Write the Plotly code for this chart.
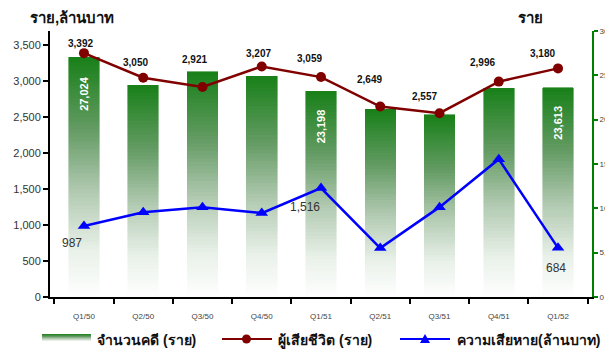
import plotly.graph_objects as go

# Quarterly data
quarters = ["Q1/50", "Q2/50", "Q3/50", "Q4/50", "Q1/51", "Q2/51", "Q3/51", "Q4/51", "Q1/52"]
cases = [27024, 23910, 25380, 24920, 23198, 21200, 20530, 23570, 23613]        # จำนวนคดี (ราย)
deaths = [3392, 3050, 2921, 3207, 3059, 2649, 2557, 2996, 3180]                # ผู้เสียชีวิต (ราย)
damage = [987, 1180, 1250, 1167, 1516, 681, 1250, 1917, 684]                   # ความเสียหาย (ล้านบาท)

# which bars / damage points carry a printed value
case_labelled = [0, 4, 8]
damage_labelled = [0, 4, 8]

# label centre offsets (pixels) for the death-count labels and the damage labels
death_dx = [-3, -8, -8, -3, -12, -11, -15, -16, -16]
death_dy = [10, 15, 28, 13, 19, 27, 17, 19, 15]
damage_dx = {0: -12, 4: -16, 8: -2}
damage_dy = {0: -17, 4: -19, 8: -20}

FONT = "Liberation Sans, Arial, sans-serif"
GREEN = "#008000"
RED = "#800000"
BLUE = "#0000ff"


def lerp(c1, c2, t):
    return tuple(round(a + (b - a) * t) for a, b in zip(c1, c2))


# bar gradient: top green fading to white at the base
grad_stops = [(0.0, (24, 128, 24)), (0.3, (100, 155, 100)), (0.55, (175, 200, 175)),
              (0.8, (232, 240, 232)), (1.0, (255, 255, 255))]


def grad_color(t):  # t = 0 at top, 1 at bottom
    for (t0, c0), (t1, c1) in zip(grad_stops[:-1], grad_stops[1:]):
        if t <= t1:
            c = lerp(c0, c1, (t - t0) / (t1 - t0))
            return "rgb(%d,%d,%d)" % c
    return "rgb(255,255,255)"


fig = go.Figure()

# bars built as stacked slices so each bar carries its own vertical gradient
N = 60
for k in range(N):
    t = 1 - (k + 0.5) / N
    col = grad_color(t)
    fig.add_trace(go.Bar(
        x=quarters, y=[v / N for v in cases], yaxis="y",
        marker=dict(color=col, line=dict(width=0.6, color=col)),
        showlegend=False, hoverinfo="skip"))

fig.add_trace(go.Scatter(
    x=quarters, y=deaths, yaxis="y2", mode="lines+markers",
    line=dict(color=RED, width=2.5),
    marker=dict(symbol="circle", size=10, color=RED),
    showlegend=False))

fig.add_trace(go.Scatter(
    x=quarters, y=damage, yaxis="y2", mode="lines+markers",
    line=dict(color=BLUE, width=2.5),
    marker=dict(symbol="triangle-up", size=11, color=BLUE),
    showlegend=False))

annotations = []
for i, q in enumerate(quarters):
    annotations.append(dict(
        x=q, y=deaths[i], xref="x", yref="y2", text="<b>{:,}</b>".format(deaths[i]),
        showarrow=False, xshift=death_dx[i], yshift=death_dy[i],
        yanchor="middle", font=dict(family=FONT, size=10, color="#111"),
    ))
for i in damage_labelled:
    annotations.append(dict(
        x=quarters[i], y=damage[i], xref="x", yref="y2", text="{:,}".format(damage[i]),
        showarrow=False, xshift=damage_dx[i], yshift=damage_dy[i],
        yanchor="middle", font=dict(family=FONT, size=12, color="#333"),
    ))
for i in case_labelled:
    annotations.append(dict(
        x=quarters[i], y=cases[i], xref="x", yref="y", text="<b>{:,}</b>".format(cases[i]),
        showarrow=False, textangle=-90, yanchor="top", yshift=-16,
        font=dict(family=FONT, size=11, color="white"),
    ))

W, H = 605, 349
L, R, T, B = 50, 13, 31, 52
pw, ph = W - L - R, H - T - B


def px(xp):
    return (xp - L) / pw


def py(yp):
    return (H - B - yp) / ph


fig.update_layout(
    width=W, height=H,
    margin=dict(l=L, r=R, t=T, b=B, autoexpand=False),
    plot_bgcolor="white", paper_bgcolor="white",
    barmode="stack", bargap=0.485,
    showlegend=False,
    xaxis=dict(
        type="category", showgrid=False, showline=True, linecolor="black", linewidth=2,
        ticks="outside", tickson="boundaries", ticklen=5, tickwidth=2, tickcolor="black",
        tickfont=dict(family=FONT, size=8, color="#444"), ticklabelstandoff=10,
        automargin=False,
    ),
    yaxis=dict(
        side="right", range=[0, 30000], dtick=5000, tickformat=",d",
        showgrid=False, zeroline=False, showline=True, linecolor=GREEN, linewidth=2,
        ticks="outside", ticklen=4, tickwidth=2, tickcolor=GREEN,
        tickfont=dict(family=FONT, size=8, color="#444"), automargin=False,
    ),
    yaxis2=dict(
        overlaying="y", side="left", range=[0, 3700], dtick=500, tickformat=",d",
        showgrid=False, zeroline=False, showline=True, linecolor="black", linewidth=2,
        ticks="outside", ticklen=5, tickwidth=2, tickcolor="black",
        tickfont=dict(family=FONT, size=11, color="#333"), automargin=False,
    ),
)

# axis titles
annotations.append(dict(x=px(28), y=py(18), xref="paper", yref="paper",
                        text="<b>ราย,ล้านบาท</b>", showarrow=False,
                        xanchor="left", yanchor="middle",
                        font=dict(family=FONT, size=15, color="#111")))
annotations.append(dict(x=px(530), y=py(18), xref="paper", yref="paper", text="<b>ราย</b>",
                        showarrow=False, xanchor="center", yanchor="middle",
                        font=dict(family=FONT, size=15, color="#111")))

# legend drawn below the plot
shapes = []
sw_top, sw_bot = 334, 341
steps = sw_bot - sw_top
for s in range(steps):
    col = grad_color((s + 0.5) / steps * 0.85)
    shapes.append(dict(type="rect", xref="paper", yref="paper",
                       x0=px(42), x1=px(91), y0=py(sw_top + s), y1=py(sw_top + s + 1),
                       fillcolor=col, line=dict(width=0), layer="above"))
annotations.append(dict(x=px(95), y=py(340), xref="paper", yref="paper",
                        text="<b>จำนวนคดี (ราย)</b>", showarrow=False,
                        xanchor="left", yanchor="middle",
                        font=dict(family=FONT, size=14, color="#111")))
shapes.append(dict(type="line", xref="paper", yref="paper", x0=px(222), x1=px(272),
                   y0=py(339), y1=py(339), line=dict(color=RED, width=2)))
shapes.append(dict(type="circle", xref="paper", yref="paper", x0=px(242), x1=px(251),
                   y0=py(343.5), y1=py(334.5), fillcolor=RED, line=dict(color=RED, width=0)))
annotations.append(dict(x=px(276), y=py(340), xref="paper", yref="paper",
                        text="<b>ผู้เสียชีวิต (ราย)</b>", showarrow=False,
                        xanchor="left", yanchor="middle",
                        font=dict(family=FONT, size=14, color="#111")))
shapes.append(dict(type="line", xref="paper", yref="paper", x0=px(400), x1=px(450),
                   y0=py(339), y1=py(339), line=dict(color=BLUE, width=2)))
shapes.append(dict(type="path", xref="paper", yref="paper",
                   path="M %f,%f L %f,%f L %f,%f Z" % (px(420), py(343), px(430), py(343),
                                                      px(425), py(334)),
                   fillcolor=BLUE, line=dict(color=BLUE, width=0)))
annotations.append(dict(x=px(455), y=py(340), xref="paper", yref="paper",
                        text="<b>ความเสียหาย(ล้านบาท)</b>", showarrow=False,
                        xanchor="left", yanchor="middle",
                        font=dict(family=FONT, size=14, color="#111")))

fig.update_layout(annotations=annotations, shapes=shapes)
fig.write_html("out.html")
